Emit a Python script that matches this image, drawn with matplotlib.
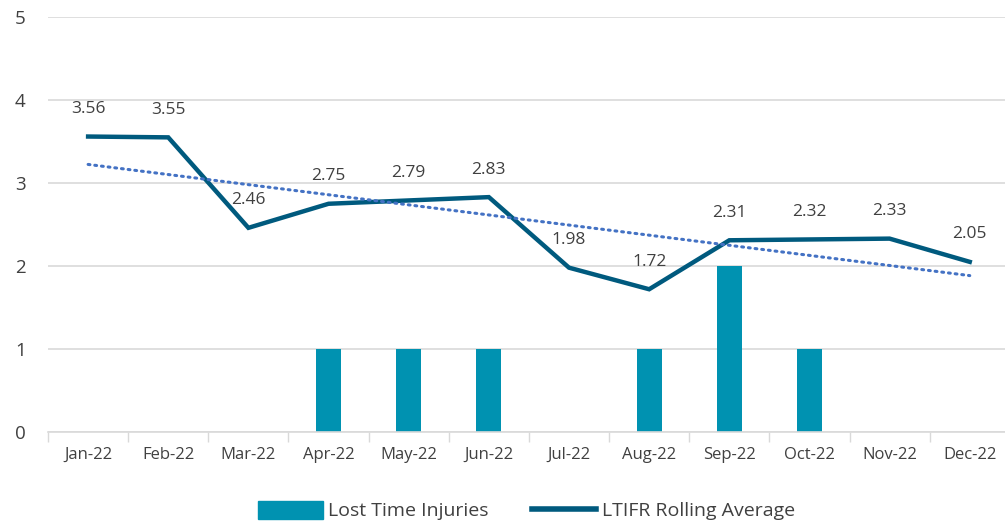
import numpy as np
import matplotlib.pyplot as plt
from matplotlib.lines import Line2D
from matplotlib.patches import Patch

plt.rcParams['font.family'] = ['Open Sans', 'DejaVu Sans']

months = ['Jan-22', 'Feb-22', 'Mar-22', 'Apr-22', 'May-22', 'Jun-22',
          'Jul-22', 'Aug-22', 'Sep-22', 'Oct-22', 'Nov-22', 'Dec-22']
lost_time_injuries = [0, 0, 0, 1, 1, 1, 0, 1, 2, 1, 0, 0]
ltifr_rolling = [3.56, 3.55, 2.46, 2.75, 2.79, 2.83, 1.98, 1.72, 2.31, 2.32, 2.33, 2.05]

bar_color = '#0092B1'
line_color = '#005A7E'
trend_color = '#4472C4'
text_color = '#404040'
grid_color = '#D9D9D9'

fig = plt.figure(figsize=(10.05, 5.22), dpi=100)
ax = fig.add_axes([0.0478, 0.1724, 0.957, 0.795])

x = np.arange(len(months))
ax.bar(x, lost_time_injuries, width=0.31, color=bar_color, zorder=2)
ax.plot(x, ltifr_rolling, color=line_color, linewidth=3.2,
        solid_joinstyle='miter', zorder=3)

# Excel-style linear trendline on the rolling average
slope, intercept = np.polyfit(x, ltifr_rolling, 1)
ax.plot(x, slope * x + intercept, color=trend_color, linewidth=2.2,
        linestyle=(0, (0.6, 1.6)), dash_capstyle='round', zorder=4)

for xi, v in zip(x, ltifr_rolling):
    ax.annotate(f'{v:.2f}', (xi, v), xytext=(0, 14), textcoords='offset points',
                ha='center', va='bottom', fontsize=12.5, color=text_color)

ax.set_xlim(-0.5, len(months) - 0.5)
ax.set_ylim(0, 5)
ax.set_yticks(range(6))
ax.set_xticks(x)
ax.set_xticklabels(months, fontsize=12, color=text_color)
ax.set_xticks(np.arange(-0.5, len(months), 1), minor=True)
ax.tick_params(axis='x', which='major', length=0, pad=11)
ax.tick_params(axis='x', which='minor', length=7, color=grid_color, width=1)
ax.tick_params(axis='y', length=0, labelsize=13.5, labelcolor=text_color, pad=16)

ax.grid(axis='y', color=grid_color, linewidth=1.2, zorder=0)
ax.set_axisbelow(True)
for side in ['top', 'right', 'left']:
    ax.spines[side].set_visible(False)
ax.spines['bottom'].set_color(grid_color)
ax.spines['bottom'].set_linewidth(1.2)

handles = [Patch(color=bar_color), Line2D([0], [0], color=line_color, linewidth=4)]
fig.legend(handles, ['Lost Time Injuries', 'LTIFR Rolling Average'],
           loc='center', bbox_to_anchor=(0.524, 0.022), ncol=2, frameon=False,
           fontsize=14, labelcolor=text_color, handlelength=3.3, handleheight=1.1,
           columnspacing=2.2, handletextpad=0.3)

fig.savefig('out.png', dpi=100)
